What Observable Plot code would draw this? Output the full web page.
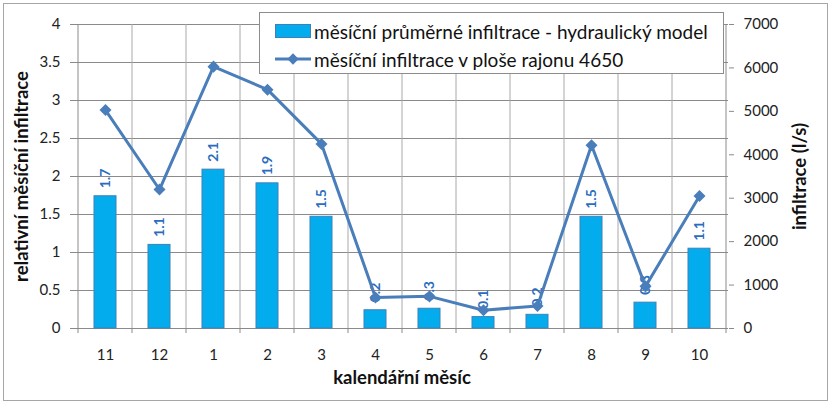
<!DOCTYPE html>
<html><head><meta charset="utf-8">
<script src="https://cdn.jsdelivr.net/npm/d3@7"></script>
<script src="https://cdn.jsdelivr.net/npm/@observablehq/plot@0.6"></script>
<style>
body{margin:0;background:#fff;font-family:Lato,"Noto Sans",sans-serif;}
#wrap{position:relative;width:836px;height:410px;overflow:hidden}
#frame{position:absolute;left:3px;top:3px;width:825px;height:398px;box-sizing:border-box;border:1px solid #a6a6a6;pointer-events:none}
#legend{position:absolute;left:259px;top:12px;width:465px;height:62px;box-sizing:border-box;border:1px solid #8c8c8c;background:#fff;font-size:19px;color:#111}
.item{position:absolute;left:15px;height:24px;display:flex;align-items:center;white-space:nowrap}
.item svg{margin-right:3px}
</style></head><body>
<div id="wrap"><div id="chart"></div><div id="frame"></div><div id="legend"></div></div>
<script>
const months = ["11","12","1","2","3","4","5","6","7","8","9","10"];
const relative = [1.74,1.10,2.09,1.91,1.47,0.24,0.26,0.15,0.18,1.47,0.34,1.05];
const relativeLabels = ["1.7","1.1","2.1","1.9","1.5","0.2","0.3","0.1","0.2","1.5","0.3","1.1"];
const infiltration = [5030,3200,6030,5500,4250,715,740,420,520,4220,970,3050];
const leftTicks = [0,0.5,1,1.5,2,2.5,3,3.5,4];
const rightTicks = [0,1000,2000,3000,4000,5000,6000,7000];
const seriesNames = ["měsíční průměrné infiltrace - hydraulický model","měsíční infiltrace v ploše rajonu 4650"];
const titles = {left:"relativní měsíční infiltrace", right:"infiltrace (l/s)", x:"kalendářní měsíc"};

const leftMax = leftTicks[leftTicks.length-1], rightMax = rightTicks[rightTicks.length-1];
const ratio = rightMax / leftMax;
const barColor = "#03ACEC", barStroke = "#3F80B8", lineColor = "#4A7EBB", labelColor = "#2A6DBE";
const gridH = "#8a8a8a", gridV = "#a8a8a8";

const data = months.map((m,i)=>({month:m, rel:relative[i], label:relativeLabels[i], inf:infiltration[i], infScaled:infiltration[i]/ratio}));

const vgrid = (index, scales, values, dims) => {
  const {x, y} = scales;
  const bw = x.bandwidth(), off = (x.step() - bw)/2;
  const bounds = months.map(m => x(m) - off).concat([x(months[months.length-1]) + bw + off]);
  const g = d3.create("svg:g");
  const y0 = y(0), yTop = y(leftMax);
  bounds.forEach((b,i) => {
    const edge = i===0 || i===bounds.length-1;
    if (!edge) g.append("line").attr("x1",b).attr("x2",b).attr("y1",yTop).attr("y2",y0).attr("stroke",gridV);
    g.append("line").attr("x1",b).attr("x2",b).attr("y1",y0).attr("y2",y0+5).attr("stroke",gridH);
  });
  [bounds[0], bounds[bounds.length-1]].forEach(b =>
    g.append("line").attr("x1",b).attr("x2",b).attr("y1",yTop).attr("y2",y0).attr("stroke",gridH));
  return g.node();
};

const chart = Plot.plot({
  width: 836, height: 410,
  marginLeft: 75, marginRight: 108, marginTop: 24, marginBottom: 82,
  style: {fontFamily: "Lato, 'Noto Sans', sans-serif", fontSize: "15px", color: "#222", background: "transparent"},
  x: {domain: months, paddingInner: 0.6, paddingOuter: 0.3, axis: null},
  y: {domain: [0, leftMax], axis: null},
  marks: [
    Plot.ruleY(leftTicks, {stroke: gridH}),
    vgrid,
    Plot.axisY(leftTicks, {anchor: "left", tickSize: 5, tickPadding: 10, stroke: gridH, color: "#222", label: null, tickFormat: d => String(d)}),
    Plot.axisY(rightTicks.map(v => v/ratio), {anchor: "right", tickSize: 5, tickPadding: 10, stroke: gridH, color: "#222", label: null, tickFormat: d => String(Math.round(d*ratio))}),
    Plot.axisX(months, {tickSize: 0, tickPadding: 21, color: "#222", label: null}),
    Plot.barY(data, {x: "month", y: "rel", fill: barColor, stroke: barStroke, strokeWidth: 1}),
    Plot.text(data, {x: "month", y: "rel", text: "label", rotate: -90, textAnchor: "start", dy: -8, fill: labelColor, fontSize: 14, fontWeight: "bold"}),
    Plot.line(data, {x: "month", y: "infScaled", stroke: lineColor, strokeWidth: 3}),
    Plot.dot(data, {x: "month", y: "infScaled", symbol: "square", rotate: 45, r: 4.8, fill: lineColor}),
    Plot.text([titles.left], {frameAnchor: "left", textAnchor: "middle", dx: -53, rotate: -90, fontWeight: "bold", fontSize: 18.5, fill: "#111"}),
    Plot.text([titles.right], {frameAnchor: "right", textAnchor: "middle", dx: 72, rotate: -90, fontWeight: "bold", fontSize: 18.5, fill: "#111"}),
    Plot.text([titles.x], {frameAnchor: "bottom", dy: 55, fontWeight: "bold", fontSize: 18.5, fill: "#111"})
  ]
});
document.getElementById("chart").append(chart);

const legend = document.getElementById("legend");
legend.innerHTML = `
<div class="item" style="top:6px"><svg width="36" height="16"><rect x="0.5" y="1.5" width="35" height="13" fill="${barColor}" stroke="${barStroke}"/></svg><span>${seriesNames[0]}</span></div>
<div class="item" style="top:34px"><svg width="36" height="16"><line x1="0" x2="36" y1="8" y2="8" stroke="${lineColor}" stroke-width="3"/><rect x="14" y="4" width="8" height="8" fill="${lineColor}" transform="rotate(45 18 8)"/></svg><span>${seriesNames[1]}</span></div>`;
</script>
</body></html>
